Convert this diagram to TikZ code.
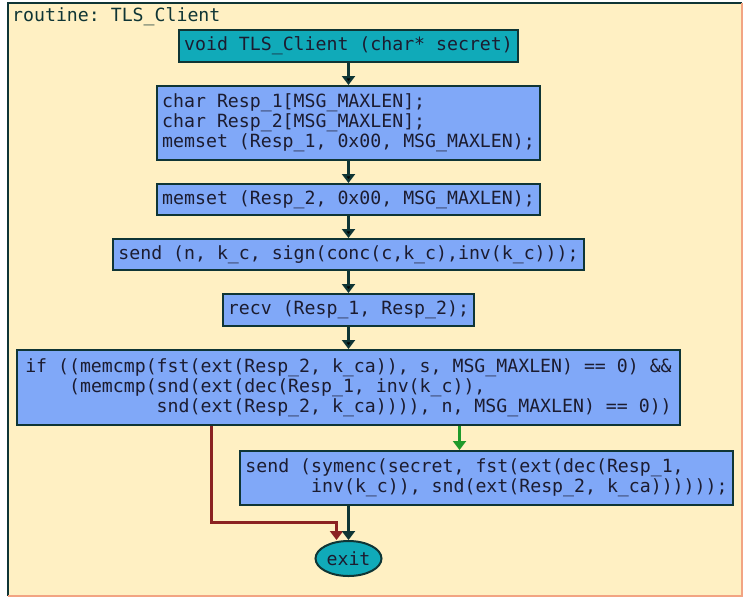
\documentclass[tikz,border=0pt]{standalone}
\usepackage{fontspec}
\usepackage{tikz}
\usetikzlibrary{positioning}
\usetikzlibrary{arrows.meta}
\usetikzlibrary{shapes.geometric}
\usepackage{xcolor}
\newfontfamily\codefont{DejaVu Sans Mono}
\newcommand{\codetext}{\codefont\fontsize{18.2pt}{20pt}\selectfont\frenchspacing}
\newcommand{\codeindent}[1]{\hspace*{#1\fontcharwd\font`\x}}
\definecolor{bgcream}{HTML}{FFF0C3}
\definecolor{stmtfill}{HTML}{80A8F8}
\definecolor{entryfill}{HTML}{10AAB9}
\definecolor{edgedark}{HTML}{0F3535}
\definecolor{framelight}{HTML}{F2A483}
\definecolor{nored}{HTML}{8B2222}
\definecolor{yesgreen}{HTML}{1F9A2A}
\definecolor{codeink}{HTML}{1C1C30}

\begin{document}
\begin{tikzpicture}[x=1pt,y=-1pt,node distance=22pt,
    stmt/.style={draw=edgedark,fill=stmtfill,line width=2pt,inner xsep=5pt,inner ysep=3pt,
      minimum height=31pt,align=left,font=\codetext,text=codeink},
    entry/.style={stmt,fill=entryfill,minimum height=32pt},
    exitnode/.style={ellipse,draw=edgedark,fill=entryfill,line width=2pt,inner sep=0pt,
      minimum width=66pt,minimum height=35pt,font=\codetext,text=codeink},
    flow/.style={draw=edgedark,line width=3pt,-{Triangle[length=9pt,width=13pt]}},
    yesflow/.style={flow,draw=yesgreen},
    noflow/.style={flow,draw=nored}]
   \useasboundingbox (0,0) rectangle (746,598);
   % frame
   \fill[bgcream] (8,3) rectangle (742,596);
   \draw[edgedark,line width=2pt] (8,596) -- (8,3) -- (742,3);
   \draw[framelight,line width=2pt] (742,3) -- (742,596) -- (8,596);
   \node[font=\codetext,text=edgedark,anchor=base west,inner sep=0pt] (t_title) at (12,21) {routine: TLS\_Client};

   \node[entry] (s_entry) at (348.5,46) {void TLS\_Client (char* secret)};
   \node[stmt,minimum height=74pt] (s_decl) [below=of s_entry]
     {char Resp\_1[MSG\_MAXLEN];\\char Resp\_2[MSG\_MAXLEN];\\memset (Resp\_1, 0x00, MSG\_MAXLEN);};
   \node[stmt] (s_init) [below=of s_decl] {memset (Resp\_2, 0x00, MSG\_MAXLEN);};
   \node[stmt] (s_send) [below=of s_init] {send (n, k\_c, sign(conc(c,k\_c),inv(k\_c)));};
   \node[stmt,minimum height=32pt] (s_recv) [below=of s_send] {recv (Resp\_1, Resp\_2);};
   \node[stmt,minimum height=75pt,inner xsep=8pt] (s_if) [below=of s_recv]
     {if ((memcmp(fst(ext(Resp\_2, k\_ca)), s, MSG\_MAXLEN) == 0) \&\&\\
      \codeindent{4}(memcmp(snd(ext(dec(Resp\_1, inv(k\_c)),\\
      \codeindent{12}snd(ext(Resp\_2, k\_ca)))), n, MSG\_MAXLEN) == 0))};
   \node[stmt,minimum height=54pt] (s_enc) [below=24pt of s_if,xshift=138pt]
     {send (symenc(secret, fst(ext(dec(Resp\_1,\\
      \codeindent{6}inv(k\_c)), snd(ext(Resp\_2, k\_ca))))));};
   \coordinate (c_join) at (s_if.south |- s_enc.south);
   \node[exitnode] (s_exit) [below=34pt of c_join] {exit};

   \path[flow]
    (s_entry) edge (s_decl)
    (s_decl) edge (s_init)
    (s_init) edge (s_send)
    (s_send) edge (s_recv)
    (s_recv) edge (s_if);
   % branches
   \coordinate (c_yes) at ([xshift=-27pt]s_enc.north);
   \coordinate (c_nobend) at ([xshift=-137pt,yshift=18pt]s_exit.north);
   \draw[yesflow] (s_if.south -| c_yes) -- (c_yes);
   \draw[noflow] (s_if.south -| c_nobend) -- (c_nobend) -| ([xshift=-12pt]s_exit.north);
   \draw[flow] (s_enc.south -| s_exit.north) -- (s_exit.north);
\end{tikzpicture}
\end{document}
